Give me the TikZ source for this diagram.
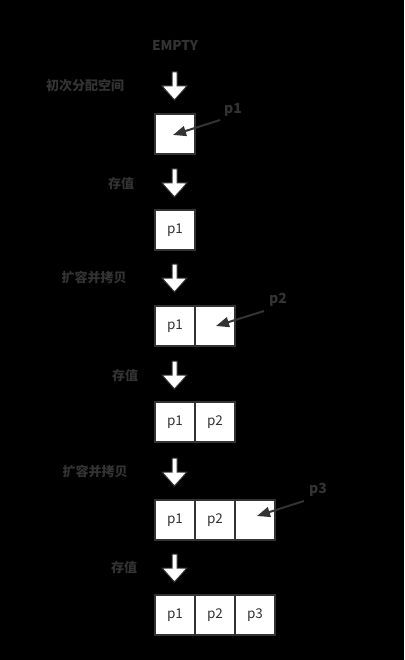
\documentclass[tikz,border=0pt]{standalone}
\usepackage{fontspec}
\setmainfont{Noto Sans CJK SC}
\usetikzlibrary{arrows.meta}
\definecolor{ink}{HTML}{333333}
\newcommand\blockarrow[2]{\draw[blk] (#1,#2) ++(-2.5,0) -- ++(5,0) -- ++(0,14) -- ++(10,0) -- ++(-12.5,14) -- ++(-12.5,-14) -- ++(10,0) -- cycle;}
\begin{document}
\begin{tikzpicture}[x=1pt,y=-1pt,
  cell/.style={draw=ink, fill=white, line width=2pt, minimum size=40pt, inner sep=0pt, text=ink, font=\fontsize{13.5}{15}\selectfont},
  lab/.style={text=ink, inner sep=0pt, font=\bfseries\fontsize{13}{15}\selectfont},
  ptr/.style={draw=ink, line width=2pt, -{Triangle[length=13pt,width=10pt]}},
  blk/.style={draw=ink, fill=white, line width=1pt, line join=miter}]
\useasboundingbox (0,0) rectangle (404,660);
\fill[black] (0,0) rectangle (404,660);

% title
\node[lab, font=\bfseries\fontsize{13.5}{15}\selectfont] (empty) at (175,45) {EMPTY};

% block arrows
\blockarrow{174.5}{72}
\blockarrow{174.5}{169}
\blockarrow{174.5}{264}
\blockarrow{174.5}{361}
\blockarrow{174.5}{458}
\blockarrow{174.5}{554}

% step labels
\node[lab] (l1) at (85,86) {初次分配空间};
\node[lab] (l2) at (121,184) {存值};
\node[lab] (l3) at (94,278) {扩容并拷贝};
\node[lab] (l4) at (125,376) {存值};
\node[lab] (l5) at (95,472) {扩容并拷贝};
\node[lab] (l6) at (124,568) {存值};

% row 1
\node[cell] (a1) at (175,134.5) {};
% row 2
\node[cell] (b1) at (175,230) {p1};
% row 3
\node[cell] (c1) at (175,326) {p1};
\node[cell] (c2) at (215,326) {};
% row 4
\node[cell] (d1) at (175,422) {p1};
\node[cell] (d2) at (215,422) {p2};
% row 5
\node[cell] (e1) at (175,520) {p1};
\node[cell] (e2) at (215,520) {p2};
\node[cell] (e3) at (255,520) {};
% row 6
\node[cell] (f1) at (175,615) {p1};
\node[cell] (f2) at (215,615) {p2};
\node[cell] (f3) at (255,615) {p3};

% pointers
\node[lab, font=\bfseries\fontsize{14}{16}\selectfont] (pl1) at (233,110) {p1};
\coordinate (ps1) at (220,120);
\coordinate (pt1) at (173,135);
\draw[ptr] (ps1) -- (pt1);

\node[lab, font=\bfseries\fontsize{14}{16}\selectfont] (pl2) at (278,300) {p2};
\coordinate (ps2) at (264,311);
\coordinate (pt2) at (216,326);
\draw[ptr] (ps2) -- (pt2);

\node[lab, font=\bfseries\fontsize{14}{16}\selectfont] (pl3) at (318,490) {p3};
\coordinate (ps3) at (304,501);
\coordinate (pt3) at (257,516);
\draw[ptr] (ps3) -- (pt3);
\end{tikzpicture}
\end{document}
